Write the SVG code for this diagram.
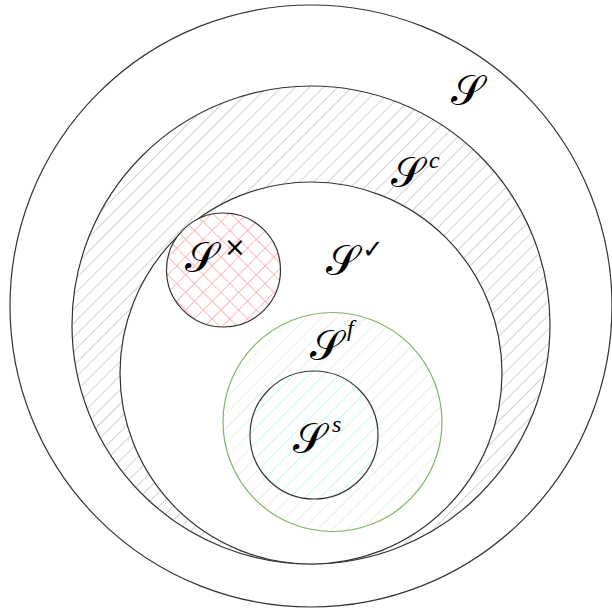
<svg xmlns="http://www.w3.org/2000/svg" width="612" height="615" viewBox="0 0 612 615">
<defs>
<pattern id="hatchGray" patternUnits="userSpaceOnUse" width="10" height="10" patternTransform="rotate(45)">
<line x1="0" y1="-1" x2="0" y2="11" stroke="#b4b4b4" stroke-width="1.2"/>
</pattern>
<pattern id="hatchGreen" patternUnits="userSpaceOnUse" width="10.5" height="10.5" patternTransform="rotate(45)">
<line x1="0" y1="-1" x2="0" y2="12" stroke="#d5e9d2" stroke-width="1.2"/>
</pattern>
<pattern id="hatchCyan" patternUnits="userSpaceOnUse" width="10.5" height="10.5" patternTransform="rotate(45)">
<line x1="0" y1="-1" x2="0" y2="12" stroke="#a0f0f0" stroke-width="1.2"/>
</pattern>
<pattern id="hatchRed" patternUnits="userSpaceOnUse" width="12.5" height="12.5" patternTransform="rotate(45)">
<line x1="0" y1="-1" x2="0" y2="14" stroke="#ff9f9f" stroke-width="1.4"/>
<line x1="-1" y1="0" x2="14" y2="0" stroke="#ff9f9f" stroke-width="1.4"/>
</pattern>
</defs>
<style>
.set{stroke:#333;stroke-width:1.2}
.S{font-family:"DejaVu Serif","DejaVu Sans","Noto Sans",serif;font-size:42px;fill:#000}
.sup{font-family:"Liberation Serif",serif;font-style:italic;font-size:24px;fill:#000}
.sym{font-family:"DejaVu Sans",sans-serif;font-size:26px;fill:#000}
</style>
<rect width="612" height="615" fill="#fff"/>
<g id="set-S">
<circle class="set" cx="311" cy="306" r="301" fill="#fff"/>
<text class="S" x="451" y="105">𝒮</text>
</g>
<g id="set-Sc">
<circle cx="311" cy="325" r="239" fill="#fff"/>
<circle class="set" cx="311" cy="325" r="239" fill="url(#hatchGray)"/>
<text class="S" x="391" y="187">𝒮</text>
<text class="sup" x="429" y="168">c</text>
</g>
<g id="set-Scheck">
<circle class="set" cx="311" cy="373" r="191" fill="#fff"/>
<text class="S" x="326" y="275">𝒮</text>
<text class="sym" x="362" y="258">✓</text>
</g>
<g id="set-Sx">
<circle cx="223.5" cy="270" r="57" fill="#fff"/>
<circle class="set" cx="223.5" cy="270" r="57" fill="url(#hatchRed)"/>
<text class="S" x="185" y="272">𝒮</text>
<text class="sym" x="224" y="256">×</text>
</g>
<g id="set-Sf">
<circle cx="332.5" cy="422" r="109.5" fill="#fff"/>
<circle cx="332.5" cy="422" r="109.5" fill="url(#hatchGreen)" stroke="#82b366" stroke-width="1.2"/>
<text class="S" x="310" y="360">𝒮</text>
<text class="sup" x="347" y="336">f</text>
</g>
<g id="set-Ss">
<circle cx="314" cy="435" r="64" fill="#fff"/>
<circle class="set" cx="314" cy="435" r="64" fill="url(#hatchCyan)"/>
<text class="S" x="293" y="453">𝒮</text>
<text class="sup" x="332" y="432">s</text>
</g>
</svg>
